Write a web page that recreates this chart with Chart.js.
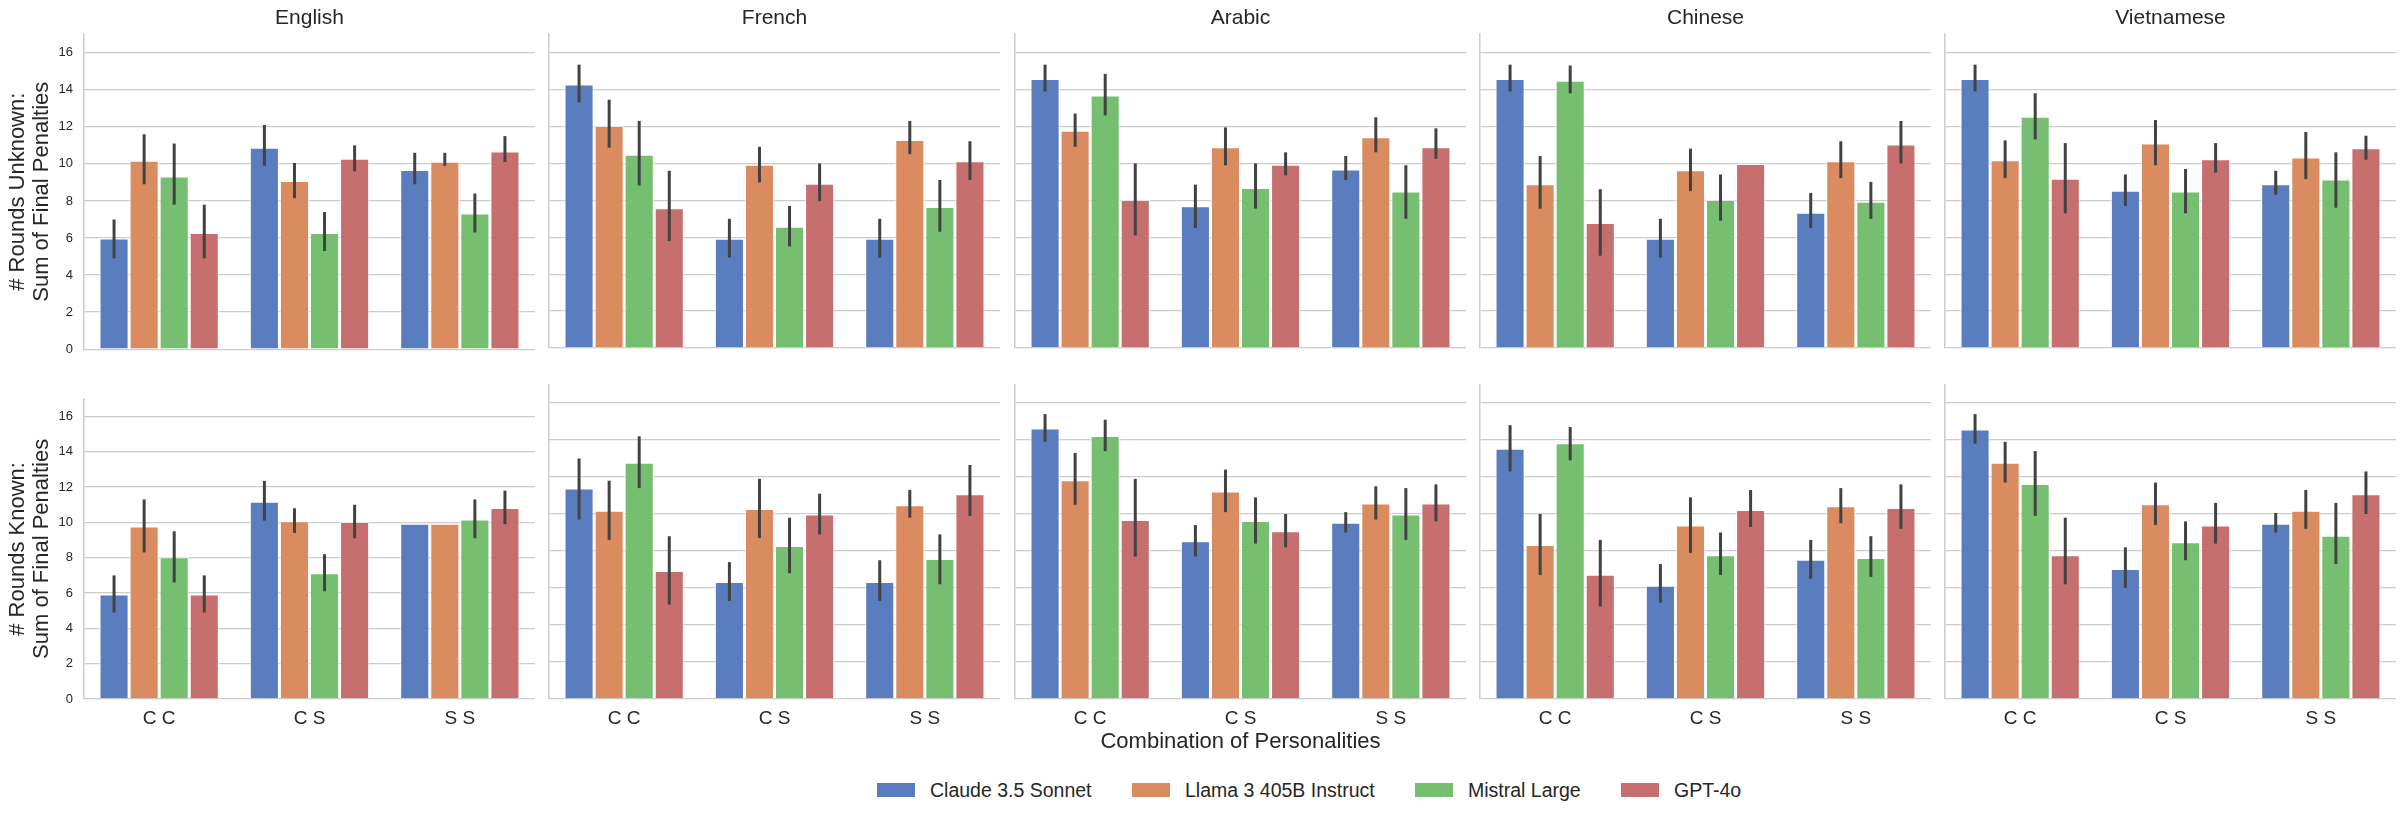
<!DOCTYPE html>
<html>
<head>
<meta charset="utf-8">
<script src="https://cdn.jsdelivr.net/npm/chart.js@4.4.1/dist/chart.umd.min.js"></script>
<style>
  body { margin: 0; background: #fff; font-family: "Liberation Sans", Arial, sans-serif; color: #262626; }
  #fig { position: relative; width: 2406px; height: 818px; overflow: hidden; }
  #fig canvas { position: absolute; }
  .leg-box { position: absolute; width: 38px; height: 14px; top: 783px; }
  .leg-txt { position: absolute; top: 778px; font-size: 19.5px; line-height: 24px; white-space: nowrap; }
</style>
</head>
<body>
<div id="fig">
  <div class="leg-box" style="left:877px;background:#597dbf"></div>
  <div class="leg-txt" style="left:930px">Claude 3.5 Sonnet</div>
  <div class="leg-box" style="left:1132px;background:#da8b5f"></div>
  <div class="leg-txt" style="left:1185px">Llama 3 405B Instruct</div>
  <div class="leg-box" style="left:1415px;background:#76bf71"></div>
  <div class="leg-txt" style="left:1468px">Mistral Large</div>
  <div class="leg-box" style="left:1621px;background:#c76e6e"></div>
  <div class="leg-txt" style="left:1674px">GPT-4o</div>
</div>
<script>
// === Datos ===
const categories = ["C C", "C S", "S S"];
const models = ["Claude 3.5 Sonnet", "Llama 3 405B Instruct", "Mistral Large", "GPT-4o"];
const colors = ["#597dbf", "#da8b5f", "#76bf71", "#c76e6e"];
const languages = ["English", "French", "Arabic", "Chinese", "Vietnamese"];
const yTicks = [0, 2, 4, 6, 8, 10, 12, 14, 16];

// Rounds unknown: una fila por modelo, una columna por combinación
const unknownEnglishMean = [[6.0, 10.9, 9.7], [10.2, 9.1, 10.15], [9.35, 6.3, 7.35], [6.3, 10.3, 10.7]];
const unknownEnglishCi = [[[4.9, 7.0], [9.9, 12.1], [8.9, 10.6]], [[8.9, 11.6], [8.15, 10.05], [9.9, 10.6]], [[7.8, 11.1], [5.3, 7.4], [6.3, 8.4]], [[4.9, 7.8], [9.6, 11.0], [10.1, 11.5]]];
const unknownFrenchMean = [[14.3, 5.95, 5.95], [12.05, 9.95, 11.3], [10.5, 6.6, 7.67], [7.6, 8.92, 10.15]];
const unknownFrenchCi = [[[13.3, 15.35], [4.9, 7.0], [4.9, 7.0]], [[10.85, 13.45], [8.97, 10.9], [10.5, 12.3]], [[8.8, 12.3], [5.5, 7.7], [6.3, 9.1]], [[5.8, 9.6], [7.95, 10.0], [9.1, 11.2]]];
const unknownArabicMean = [[14.6, 7.7, 9.7], [11.8, 10.9, 11.45], [13.7, 8.7, 8.5], [8.05, 9.95, 10.9]];
const unknownArabicCi = [[[13.9, 15.35], [6.5, 8.85], [9.1, 10.4]], [[10.9, 12.7], [9.9, 11.95], [10.6, 12.5]], [[12.6, 14.85], [7.55, 10.0], [7.0, 9.9]], [[6.1, 10.0], [9.35, 10.6], [10.25, 11.9]]];
const unknownChineseMean = [[14.6, 5.95, 7.35], [8.9, 9.65, 10.15], [14.5, 8.05, 7.95], [6.8, 10.0, 11.05]];
const unknownChineseCi = [[[13.9, 15.35], [4.9, 7.0], [6.5, 8.4]], [[7.55, 10.4], [8.5, 10.8], [9.2, 11.2]], [[13.8, 15.3], [6.9, 9.4], [7.0, 9.0]], [[5.0, 8.6], [10.0, 10.0], [10.0, 12.3]]];
const unknownVietnameseMean = [[14.6, 8.55, 8.9], [10.2, 11.1, 10.35], [12.55, 8.5, 9.15], [9.2, 10.25, 10.85]];
const unknownVietnameseCi = [[[13.9, 15.35], [7.7, 9.4], [8.3, 9.6]], [[9.2, 11.25], [9.9, 12.35], [9.15, 11.7]], [[11.3, 13.8], [7.3, 9.7], [7.6, 10.6]], [[7.3, 11.1], [9.5, 11.1], [10.2, 11.5]]];

// Rounds known
const knownEnglishMean = [[5.95, 11.2, 9.95], [9.8, 10.1, 9.95], [8.05, 7.15, 10.2], [5.95, 10.05, 10.85]];
const knownEnglishCi = [[[4.9, 7.0], [10.1, 12.35], [9.95, 9.95]], [[8.3, 11.3], [9.4, 10.8], [9.95, 9.95]], [[6.6, 9.5], [6.1, 8.2], [9.1, 11.3]], [[4.9, 7.0], [9.1, 11.0], [9.9, 11.8]]];
const knownFrenchMean = [[11.4, 6.35, 6.35], [10.2, 10.3, 10.5], [12.8, 8.3, 7.6], [6.95, 10.0, 11.1]];
const knownFrenchCi = [[[9.7, 13.0], [5.3, 7.4], [5.3, 7.5]], [[8.6, 11.8], [8.7, 11.9], [9.8, 11.3]], [[11.4, 14.2], [6.8, 9.8], [6.2, 8.9]], [[5.1, 8.8], [8.9, 11.1], [9.9, 12.65]]];
const knownArabicMean = [[14.65, 8.55, 9.55], [11.85, 11.25, 10.6], [14.25, 9.65, 10.0], [9.7, 9.1, 10.6]];
const knownArabicCi = [[[13.9, 15.4], [7.7, 9.4], [9.0, 10.1]], [[10.5, 13.3], [10.1, 12.4], [9.7, 11.5]], [[13.4, 15.1], [8.4, 10.9], [8.6, 11.4]], [[7.7, 11.9], [8.2, 10.0], [9.6, 11.6]]];
const knownChineseMean = [[13.55, 6.15, 7.55], [8.35, 9.4, 10.45], [13.85, 7.8, 7.65], [6.75, 10.25, 10.35]];
const knownChineseCi = [[[12.3, 14.8], [5.2, 7.3], [6.5, 8.6]], [[6.7, 10.0], [7.9, 10.9], [9.5, 11.4]], [[12.9, 14.7], [6.7, 9.0], [6.6, 8.8]], [[5.0, 8.6], [9.3, 11.3], [9.2, 11.6]]];
const knownVietnameseMean = [[14.6, 7.05, 9.5], [12.8, 10.55, 10.2], [11.65, 8.5, 8.85], [7.8, 9.4, 11.1]];
const knownVietnameseCi = [[[13.8, 15.4], [6.0, 8.2], [9.0, 10.05]], [[11.7, 13.9], [9.4, 11.7], [9.2, 11.3]], [[9.9, 13.4], [7.5, 9.6], [7.3, 10.6]], [[6.2, 9.8], [8.4, 10.6], [10.0, 12.3]]];

const rowMeans = [
  [unknownEnglishMean, unknownFrenchMean, unknownArabicMean, unknownChineseMean, unknownVietnameseMean],
  [knownEnglishMean, knownFrenchMean, knownArabicMean, knownChineseMean, knownVietnameseMean]
];
const rowCis = [
  [unknownEnglishCi, unknownFrenchCi, unknownArabicCi, unknownChineseCi, unknownVietnameseCi],
  [knownEnglishCi, knownFrenchCi, knownArabicCi, knownChineseCi, knownVietnameseCi]
];
const rowLabels = [
  ["# Rounds Unknown:", "Sum of Final Penalties"],
  ["# Rounds Known:", "Sum of Final Penalties"]
];

// === Layout ===
const panelLeft = [84, 549, 1015, 1480, 1945];
const panelWidth = 451;
const textColor = "#262626";
const gridColor = "#cccccc";
const fontFamily = "'Liberation Sans', Arial, sans-serif";

// === Barras de error ===
const errorBars = {
  id: "errorBars",
  afterDatasetsDraw(chart) {
    const { ctx } = chart;
    const y = chart.scales.y;
    ctx.save();
    ctx.strokeStyle = "#424242";
    ctx.lineWidth = 3;
    chart.data.datasets.forEach((ds, i) => {
      chart.getDatasetMeta(i).data.forEach((bar, j) => {
        const [lo, hi] = ds.ci[j];
        if (hi - lo < 0.01) return;
        ctx.beginPath();
        ctx.moveTo(bar.x, y.getPixelForValue(lo));
        ctx.lineTo(bar.x, y.getPixelForValue(hi));
        ctx.stroke();
      });
    });
    ctx.restore();
  }
};

const fig = document.getElementById("fig");

function crearPanel(row, col) {
  const axisW = col === 0 ? 84 : 10;
  const canvas = document.createElement("canvas");
  const top = row === 0 ? 0 : 380;
  // el panel con etiquetas del eje y pierde ~18px abajo en la fila superior
  const height = row === 0 ? (col === 0 ? 368 : 350) : 380;
  canvas.width = axisW + panelWidth;
  canvas.height = height;
  canvas.style.left = (panelLeft[col] - axisW) + "px";
  canvas.style.top = top + "px";
  canvas.style.width = canvas.width + "px";
  canvas.style.height = height + "px";
  fig.appendChild(canvas);

  const means = rowMeans[row][col];
  const cis = rowCis[row][col];

  new Chart(canvas.getContext("2d"), {
    type: "bar",
    data: {
      labels: categories,
      datasets: models.map((m, k) => ({
        label: m,
        data: means[k],
        ci: cis[k],
        backgroundColor: colors[k],
        borderColor: "rgba(255,255,255,0.5)",
        borderWidth: 1.5,
        categoryPercentage: 0.8,
        barPercentage: 1.0
      }))
    },
    options: {
      responsive: false,
      animation: false,
      layout: { autoPadding: false, padding: { top: row === 0 ? 0 : 4.5, left: 0, right: 0, bottom: 0 } },
      plugins: {
        legend: { display: false },
        tooltip: { enabled: false },
        title: {
          display: row === 0,
          text: languages[col],
          fullSize: false,
          color: textColor,
          font: { family: fontFamily, size: 21, weight: "normal", lineHeight: 1.2 },
          padding: { top: 6, bottom: 3 }
        }
      },
      scales: {
        x: {
          grid: { display: false, drawTicks: false },
          border: { display: false },
          ticks: {
            display: row === 1,
            padding: 8,
            color: textColor,
            font: { family: fontFamily, size: 19 }
          },
          title: {
            display: row === 1 && col === 2,
            text: "Combination of Personalities",
            color: textColor,
            font: { family: fontFamily, size: 22, lineHeight: 1.2 },
            padding: { top: 0, bottom: 5 }
          },
          afterFit: (s) => { s.height = row === 0 ? 2 : 61; }
        },
        y: {
          min: 0,
          max: 17,
          afterBuildTicks: (s) => { s.ticks = yTicks.map(v => ({ value: v })); },
          ticks: {
            display: col === 0,
            padding: 11,
            color: textColor,
            font: { family: fontFamily, size: 13 }
          },
          grid: { color: gridColor, lineWidth: 1.3, drawTicks: false },
          border: { display: true, color: gridColor, width: 1.5 },
          title: {
            display: col === 0,
            text: rowLabels[row],
            color: textColor,
            font: { family: fontFamily, size: 22, lineHeight: 1.1 },
            padding: { top: 6, bottom: 0 }
          },
          afterFit: (s) => { s.width = axisW; }
        }
      }
    },
    plugins: [errorBars]
  });
}

for (let r = 0; r < 2; r++) {
  for (let c = 0; c < 5; c++) crearPanel(r, c);
}
</script>
</body>
</html>
